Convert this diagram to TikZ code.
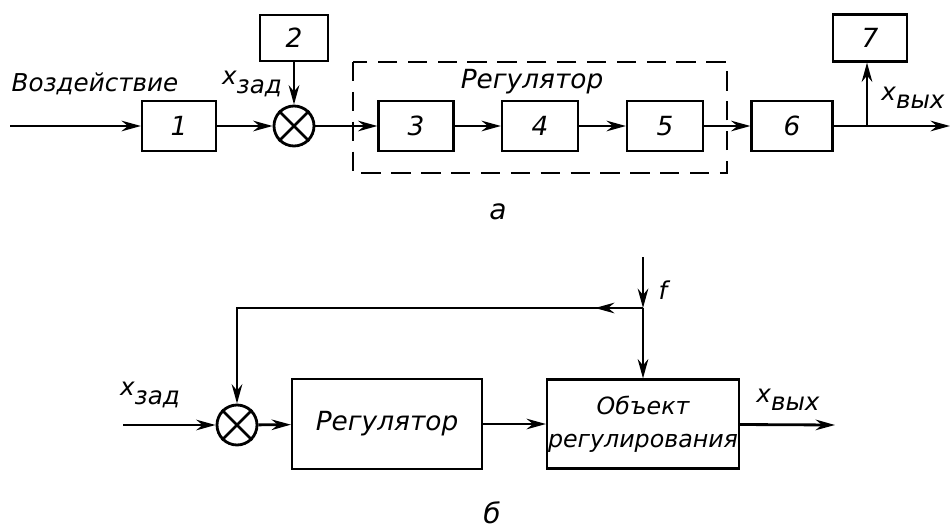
\documentclass[tikz,border=0pt]{standalone}
\usepackage{fontspec}
\setmainfont{DejaVu Sans}
\usetikzlibrary{arrows.meta}
\tikzset{
  blok/.style={draw,line width=1.2pt,inner sep=0pt,font=\fontsize{15}{18}\selectfont\itshape},
  summ/.style={draw,circle,line width=1.6pt,minimum size=0.8cm,inner sep=0pt},
  sig/.style={line width=1.6pt,-{Stealth[length=11pt,width=6pt]}},
  lbl/.style={font=\fontsize{14}{16}\selectfont\itshape},
}
\newcommand{\xind}[1]{{\itshape x}\raisebox{-0.6ex}{#1}}
\begin{document}
\begin{tikzpicture}[x=0.02cm,y=-0.02cm]
  \useasboundingbox (0,0) rectangle (950,531);
  % схема а: блоки на главной линии
  \foreach \n/\xc/\w in {1/179/1.48, 3/416/1.5, 4/540/1.52, 5/665/1.52, 6/792/1.62} {
    \node[blok,minimum width=\w cm,minimum height=1.0cm] (b\n) at (\xc,126) {\n};
  }
  \node[blok,minimum width=1.36cm,minimum height=0.92cm] (b2) at (294,38) {2};
  \node[blok,minimum width=1.48cm,minimum height=0.94cm] (b7) at (870,38) {7};
  % сумматор
  \node[summ] (s1) at (294,126) {};
  \draw[line width=1.6pt] (s1.north east) -- (s1.south west) (s1.north west) -- (s1.south east);
  % регулятор (пунктир)
  \draw[line width=1.3pt,dash pattern=on 11pt off 6pt] (353,62) rectangle (727,173);
  \coordinate (in1) at (10,126);
  \coordinate (out1) at (950,126);
  \coordinate (br) at (867,126);
  \draw[sig] (in1) -- (b1);
  \draw[sig] (b1) -- (s1);
  \draw[sig] (b2) -- (s1);
  \draw[sig] (s1) -- (b3);
  \foreach \a/\b in {3/4, 4/5, 5/6} \draw[sig] (b\a) -- (b\b);
  \draw[sig] (b6) -- (out1);
  \draw[sig] (br) -- (br |- b7.south);
  % подписи
  \node[lbl] (vozd) at (95,84) {Воздействие};
  \node[lbl] (xz1) at (252,84) {\xind{зад}};
  \node[lbl,font=\fontsize{15}{17}\selectfont\itshape] (reg1) at (532,82) {Регулятор};
  \node[lbl] (xv1) at (913,98) {\xind{вых}};
  \node[lbl,font=\fontsize{16}{18}\selectfont\itshape] (la) at (498,212) {а};

  % схема б
  \node[summ] (s2) at (237,425) {};
  \draw[line width=1.6pt] (s2.north east) -- (s2.south west) (s2.north west) -- (s2.south east);
  \node[blok,minimum width=3.8cm,minimum height=1.8cm] (reg) at (387,424) {Регулятор};
  \node[blok,minimum width=3.84cm,minimum height=1.78cm,align=center,
        font=\fontsize{13.5}{19}\selectfont\itshape] (obj) at (643,424) {Объект\\регулирования};
  \coordinate (in2) at (123,425);
  \coordinate (out2) at (835,425);
  \coordinate (ftop) at (643,257);
  \coordinate (j) at (643,308);
  \coordinate (fa) at (595,308);
  \coordinate (ug) at (237,308);
  \draw[sig] (in2) -- (s2);
  \draw[sig] (s2) -- (reg);
  \draw[sig] (reg) -- (obj);
  \draw[sig] (obj) -- (out2);
  \draw[sig] (ftop) -- (j);
  \draw[sig] (j) -- (obj);
  % обратная связь
  \draw[sig] (j) -- (fa);
  \draw[sig] (j) -- (ug) -- (s2);
  \node[lbl] (xz2) at (150,395) {\xind{зад}};
  \node[lbl] (xv2) at (788,400) {\xind{вых}};
  \node[lbl] (fl) at (663,290) {f};
  \node[lbl,font=\fontsize{16}{18}\selectfont\itshape] (lb) at (492,513) {б};
\end{tikzpicture}
\end{document}
